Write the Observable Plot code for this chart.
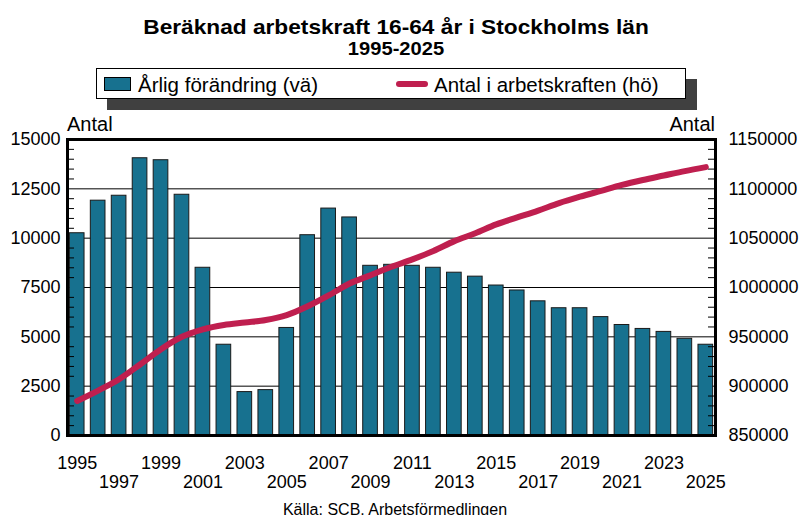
<!DOCTYPE html>
<html>
<head>
<meta charset="utf-8">
<script src="https://cdn.jsdelivr.net/npm/d3@7"></script>
<script src="https://cdn.jsdelivr.net/npm/@observablehq/plot@0.6"></script>
<style>
  html, body { margin: 0; padding: 0; background: #fff; }
  #wrap { position: relative; width: 802px; height: 515px; overflow: hidden; font-family: "Liberation Sans", Arial, sans-serif; color: #000; }
  #chart { position: absolute; left: 0; top: 0; }
  .abs { position: absolute; white-space: nowrap; }
  #title { left: 0; width: 792px; top: 15.5px; text-align: center; font-weight: bold; font-size: 21px; line-height: 21px; transform: scaleX(1.08); transform-origin: 396px 0; }
  #subtitle { left: 0; width: 792px; top: 41px; text-align: center; font-weight: bold; font-size: 17.5px; line-height: 17.5px; transform: scaleX(1.15); transform-origin: 396px 0; }
  #legend { left: 96px; top: 68px; width: 590px; height: 31px; box-sizing: border-box; border: 1px solid #000; background: #fff; box-shadow: 11px 11px 0 #404040; }
  #legend .sw { position: absolute; left: 7px; top: 8px; width: 27px; height: 14px; box-sizing: border-box; border: 1px solid #000; }
  #legend .ln { position: absolute; left: 299px; top: 12px; width: 32px; height: 6px; border-radius: 3px; }
  #legend .t { position: absolute; top: 5.5px; font-size: 20.5px; line-height: 20.5px; white-space: nowrap; }
  .antal { top: 113.5px; font-size: 20px; line-height: 20px; }
  #caption { left: 0; width: 790px; top: 502px; text-align: center; font-size: 16px; line-height: 16px; }
</style>
</head>
<body>
<div id="wrap">
  <div id="chart"></div>
  <div id="title" class="abs"></div>
  <div id="subtitle" class="abs"></div>
  <div id="legend" class="abs">
    <div class="sw"></div><div class="t" id="lt1" style="left:41px"></div>
    <div class="ln"></div><div class="t" id="lt2" style="left:337px"></div>
  </div>
  <div id="antalL" class="abs antal" style="left:67px"></div>
  <div id="antalR" class="abs antal" style="right:87px"></div>
  <div id="caption" class="abs"></div>
</div>
<script>
// ---- Data ----
const titleText = "Beräknad arbetskraft 16-64 år i Stockholms län";
const subtitleText = "1995-2025";
const legendBar = "Årlig förändring (vä)";
const legendLine = "Antal i arbetskraften (hö)";
const axisLabel = "Antal";
const captionText = "Källa: SCB. Arbetsförmedlingen";

const years = [1995, 1996, 1997, 1998, 1999, 2000, 2001, 2002, 2003, 2004, 2005, 2006, 2007, 2008, 2009, 2010,
               2011, 2012, 2013, 2014, 2015, 2016, 2017, 2018, 2019, 2020, 2021, 2022, 2023, 2024, 2025];
const yearlyChange = [10250, 11900, 12150, 14050, 13950, 12200, 8500, 4600, 2200, 2300, 5450, 10150, 11500, 11050, 8600, 8650,
                      8600, 8500, 8250, 8050, 7600, 7350, 6800, 6450, 6450, 6000, 5600, 5400, 5250, 4900, 4600];
const laborForce = [885000, 895500, 907000, 922000, 937500, 950000, 957500, 962000, 964500, 967000, 972000, 981000, 992000, 1004000, 1012500, 1021000,
                    1028500, 1037000, 1047000, 1055000, 1064000, 1071000, 1078000, 1085500, 1092000, 1098000, 1104000, 1109000, 1113500, 1118000, 1122000];

const leftTicks = [0, 2500, 5000, 7500, 10000, 12500, 15000];
const rightTicks = [850000, 900000, 950000, 1000000, 1050000, 1100000, 1150000];
const minorTicks = [500, 1000, 1500, 2000, 3000, 3500, 4000, 4500, 5500, 6000, 6500, 7000, 8000, 8500, 9000, 9500,
                    10500, 11000, 11500, 12000, 13000, 13500, 14000, 14500];
const xTicksRow1 = [1995, 1999, 2003, 2007, 2011, 2015, 2019, 2023];
const xTicksRow2 = [1997, 2001, 2005, 2009, 2013, 2017, 2021, 2025];

const barColor = "#17718f";
const lineColor = "#bf1f4f";

// right axis maps onto left scale
const rightMin = 850000, rightMax = 1150000, leftMax = 15000;
const toLeft = v => (v - rightMin) / (rightMax - rightMin) * leftMax;
const toRight = v => rightMin + v / leftMax * (rightMax - rightMin);

const data = years.map((y, i) => ({year: y, change: yearlyChange[i], total: laborForce[i]}));

const font = "Liberation Sans, Arial, sans-serif";

const chart = Plot.plot({
  width: 802,
  height: 515,
  marginLeft: 67,
  marginRight: 87,
  marginTop: 139,
  marginBottom: 80,
  style: {fontFamily: font, fontSize: "18px", color: "#000", background: "transparent", overflow: "visible"},
  x: {type: "band", domain: years, paddingInner: 0.3, paddingOuter: 0.113, round: false, axis: null},
  y: {domain: [0, 15000], axis: null},
  marks: [
    Plot.gridY(leftTicks, {stroke: "#000", strokeOpacity: 1, strokeWidth: 1}),
    Plot.barY(data, {x: "year", y: "change", fill: barColor, stroke: "#1a1a1a", strokeWidth: 1, inset: 0}),
    Plot.tickY(minorTicks, {y: d => d, stroke: "#000", strokeWidth: 1, insetRight: 641}),
    Plot.tickY(minorTicks, {y: d => d, stroke: "#000", strokeWidth: 1, insetLeft: 641}),
    Plot.lineY(data, {x: "year", y: d => toLeft(d.total), stroke: lineColor, strokeWidth: 6, strokeLinecap: "round", strokeLinejoin: "round", curve: "monotone-x"}),
    Plot.frame({stroke: "#000", strokeWidth: 3}),
    Plot.axisY(leftTicks, {anchor: "left", tickSize: 0, tickPadding: 7, tickFormat: d3.format("d"), label: null, fontSize: 18}),
    Plot.axisY(rightTicks.map(toLeft), {anchor: "right", tickSize: 0, tickPadding: 13, tickFormat: d => d3.format("d")(Math.round(toRight(d))), label: null, fontSize: 18}),
    Plot.axisX(xTicksRow1, {anchor: "bottom", tickSize: 0, tickPadding: 21, tickFormat: d => String(d), label: null, fontSize: 18}),
    Plot.axisX(xTicksRow2, {anchor: "bottom", tickSize: 0, tickPadding: 40, tickFormat: d => String(d), label: null, fontSize: 18})
  ]
});
document.getElementById("chart").appendChild(chart);

document.getElementById("title").textContent = titleText;
document.getElementById("subtitle").textContent = subtitleText;
document.getElementById("lt1").textContent = legendBar;
document.getElementById("lt2").textContent = legendLine;
document.querySelector("#legend .sw").style.background = barColor;
document.querySelector("#legend .ln").style.background = lineColor;
document.getElementById("antalL").textContent = axisLabel;
document.getElementById("antalR").textContent = axisLabel;
document.getElementById("caption").textContent = captionText;
</script>
</body>
</html>
